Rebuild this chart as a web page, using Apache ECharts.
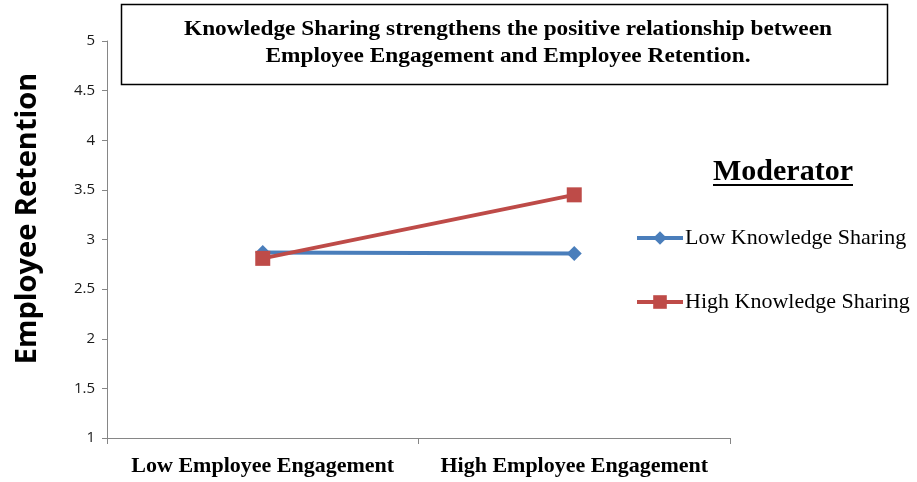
<!DOCTYPE html>
<html>
<head>
<meta charset="utf-8">
<script src="https://cdn.jsdelivr.net/npm/echarts@6/dist/echarts.min.js"></script>
<style>
  html, body { margin: 0; padding: 0; background: #fff; }
  #chart { width: 917px; height: 482px; }
</style>
</head>
<body>
<div id="chart"></div>
<script>
const categories = ['Low Employee Engagement', 'High Employee Engagement']
const lowSharing = [2.87, 2.86]
const highSharing = [2.81, 3.45]
const seriesNames = ['Low Knowledge Sharing', 'High Knowledge Sharing']
const yTicks = [1, 1.5, 2, 2.5, 3, 3.5, 4, 4.5, 5]

const chart = echarts.init(document.getElementById('chart'))
const serif = '"Liberation Serif", "Times New Roman", serif'
const sans = '"Open Sans", "Liberation Sans", sans-serif'

const option = {
  animation: false,
  grid: { left: 107, right: 187, top: 41, bottom: 44 },
  graphic: [
    {
      type: 'rect',
      shape: { x: 121.5, y: 4.5, width: 766, height: 80 },
      style: { fill: '#fff', stroke: '#000', lineWidth: 1.5 }
    },
    {
      type: 'text',
      x: 508, y: 43,
      scaleX: 1.11,
      originX: 0,
      style: {
        text: 'Knowledge Sharing strengthens the positive relationship between\nEmployee Engagement and Employee Retention.',
        font: 'bold 21px ' + serif,
        fill: '#000',
        align: 'center',
        verticalAlign: 'middle',
        lineHeight: 27
      }
    },
    {
      type: 'text',
      x: 783, y: 172,
      style: {
        text: 'Moderator',
        font: 'bold 30px ' + serif,
        fill: '#000',
        align: 'center',
        verticalAlign: 'middle'
      }
    },
    {
      type: 'line',
      shape: { x1: 713, y1: 185, x2: 853, y2: 185 },
      style: { stroke: '#000', lineWidth: 2 }
    }
  ],
  legend: {
    orient: 'vertical',
    left: 635,
    top: 227,
    padding: 0,
    itemWidth: 46,
    itemHeight: 17,
    itemGap: 42,
    data: seriesNames,
    lineStyle: { width: 4 },
    textStyle: {
      fontFamily: serif, fontSize: 22, lineHeight: 22, color: '#000', padding: [0, 0, 0, -3]
    }
  },
  xAxis: {
    type: 'category',
    data: categories,
    boundaryGap: true,
    axisLine: { lineStyle: { color: '#868686', width: 1 } },
    axisTick: { show: true, length: 6, lineStyle: { color: '#868686' } },
    axisLabel: {
      interval: 0,
      fontFamily: serif, fontWeight: 'bold', fontSize: 22, color: '#000', margin: 17
    },
    splitLine: { show: false }
  },
  yAxis: {
    type: 'value',
    min: yTicks[0],
    max: yTicks[yTicks.length - 1],
    interval: 0.5,
    name: 'Employee Retention',
    nameLocation: 'middle',
    nameRotate: 90,
    nameGap: 65,
    nameTextStyle: {
      fontFamily: sans, fontWeight: 'bold', fontSize: 29, color: '#000',
      padding: [0, 0, 0, 42]
    },
    axisLine: { show: true, lineStyle: { color: '#868686', width: 1 } },
    axisTick: { show: true, length: 5, lineStyle: { color: '#868686' } },
    axisLabel: {
      fontFamily: sans, fontSize: 15, color: '#1a1a1a', margin: 12
    },
    splitLine: { show: false }
  },
  series: [
    {
      name: seriesNames[0],
      type: 'line',
      data: lowSharing,
      symbol: 'diamond',
      symbolSize: 15,
      lineStyle: { width: 4, color: '#4a7ebb' },
      itemStyle: { color: '#4a7ebb' }
    },
    {
      name: seriesNames[1],
      type: 'line',
      data: highSharing,
      symbol: 'rect',
      symbolSize: 15,
      lineStyle: { width: 4, color: '#be4b48' },
      itemStyle: { color: '#be4b48' }
    }
  ]
}

chart.setOption(option)
window.addEventListener('resize', () => {
  chart.resize()
})
</script>
</body>
</html>
